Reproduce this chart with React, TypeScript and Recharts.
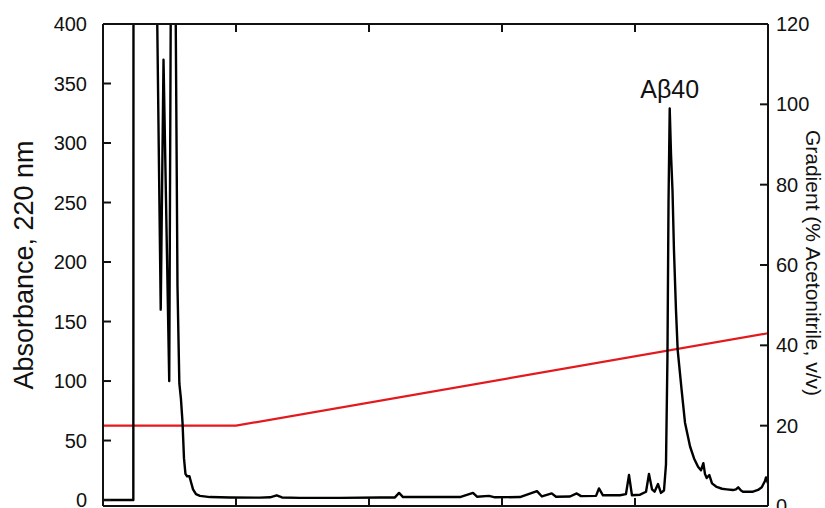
import { ComposedChart, Line, XAxis, YAxis, ReferenceDot } from 'recharts';

// retention time (min) and absorbance at 220 nm
const times = [
  0, 2.28, 2.3, 4.06, 4.08, 4.34, 4.55, 4.98, 5.09, 5.11, 5.45, 5.47, 5.6, 5.74, 5.86, 5.98, 6.09, 6.2,
  6.32, 6.5, 6.62, 6.77, 6.99, 7.29, 8.05, 9.55, 11.8, 12.56, 13.06, 13.46, 14.81, 17.82, 20.83, 21.95,
  22.26, 22.56, 24.59, 26.84, 27.82, 28.12, 29.02, 29.47, 31.35, 32.63, 33.0, 33.74, 34.06, 35.11, 35.62,
  35.94, 37.07, 37.29, 37.59, 38.87, 39.32, 39.55, 39.77, 40.38, 40.83, 41.05, 41.28, 41.47, 41.73, 41.95,
  42.18, 42.33, 42.44, 42.52, 42.61, 42.71, 42.82, 42.93, 43.08, 43.21, 43.51, 43.76, 44.14, 44.44, 44.74,
  44.96, 45.14, 45.26, 45.39, 45.59, 45.79, 46.14, 46.54, 46.89, 47.37, 47.59, 47.76, 47.97, 48.12, 48.87,
  49.25, 49.53, 49.77, 49.85, 50,
];
const absorbance = [
  0, 0, 700, 700, 400, 160, 370, 100, 400, 700, 700, 400, 180, 98, 85, 65, 35, 22,
  20, 20, 15, 9, 5, 3.5, 2.5, 2.2, 2, 2.3, 4, 2.2, 1.8, 1.8, 2.2, 2.2,
  6, 2.5, 2.5, 2.5, 6, 2.8, 3.5, 2.3, 2.5, 7.5, 3, 5.6, 2.8, 3, 5.6,
  3.3, 3.5, 9.8, 4, 4, 5, 21, 4, 4.5, 7, 22, 9, 7, 13.4, 6,
  8, 30, 120, 250, 329, 290, 260, 210, 160, 126, 92, 65, 45, 35, 28,
  25, 31, 22, 18.5, 21, 14, 11, 9.5, 9, 8.4, 9, 10.7, 8, 7, 7,
  8.5, 10.7, 16, 19, 14,
];

// acetonitrile gradient (%)
const gradientTimes = [0, 10, 50];
const gradientValues = [20, 20, 43];

const xTicks = [0, 10, 20, 30, 40, 50];
const leftTicks = [0, 50, 100, 150, 200, 250, 300, 350, 400];
const rightTicks = [0, 20, 40, 60, 80, 100, 120];

const trace = times.map((t, i) => ({ t, abs: absorbance[i] }));
const gradient = gradientTimes.map((t, i) => ({ t, pct: gradientValues[i] }));

const FONT = '"Liberation Sans", Arial, sans-serif';
const tickStyle = { fill: '#111', fontSize: 20, fontFamily: FONT };
const axisStroke = { stroke: '#111', strokeWidth: 2 };

const LeftTitle = ({ viewBox }: any) => {
  const cx = viewBox.x + 24;
  const cy = viewBox.y + viewBox.height / 2;
  return (
    <text x={cx} y={cy} transform={`rotate(-90 ${cx} ${cy})`} textAnchor="middle" dominantBaseline="central"
      fontSize={27} fontFamily={FONT} fill="#111">
      Absorbance, 220 nm
    </text>
  );
};

const RightTitle = ({ viewBox }: any) => {
  const cx = viewBox.x + 45;
  const cy = viewBox.y + viewBox.height / 2 - 2;
  return (
    <text x={cx} y={cy} transform={`rotate(90 ${cx} ${cy})`} textAnchor="middle" dominantBaseline="central"
      fontSize={21} fontFamily={FONT} fill="#111">
      Gradient (% Acetonitrile, v/v)
    </text>
  );
};

// the time labels sit below the visible area in the reference
const NoLabel = () => <g />;

export default function App() {
  return (
    <div style={{ position: 'absolute', left: 0, top: 0, background: '#fff' }}>
      <ComposedChart width={825} height={508} data={trace} margin={{ top: 23, right: 0, bottom: 0, left: 0 }}>
        <XAxis xAxisId="bottom" dataKey="t" type="number" domain={[0, 50]} ticks={xTicks} height={2}
          tickSize={-8} axisLine={axisStroke} tickLine={axisStroke} tick={NoLabel} />
        <XAxis xAxisId="top" orientation="top" dataKey="t" type="number" domain={[0, 50]} ticks={xTicks} height={1}
          tickSize={-8} axisLine={axisStroke} tickLine={axisStroke} tick={NoLabel} />
        <YAxis yAxisId="left" type="number" domain={[-5, 400]} ticks={leftTicks} width={103} allowDataOverflow
          interval={0} tickSize={-8} tickMargin={24} axisLine={axisStroke} tickLine={axisStroke} tick={tickStyle}
          label={{ content: LeftTitle }} />
        <YAxis yAxisId="right" orientation="right" type="number" domain={[0, 120]} ticks={rightTicks} width={57}
          interval={0} tickSize={-8} tickMargin={16} axisLine={axisStroke} tickLine={axisStroke} tick={tickStyle}
          label={{ content: RightTitle }} />
        <Line xAxisId="bottom" yAxisId="right" data={gradient} dataKey="pct" type="linear" stroke="#e3191c"
          strokeWidth={2.2} dot={false} isAnimationActive={false} />
        <Line xAxisId="bottom" yAxisId="left" dataKey="abs" type="linear" stroke="#000" strokeWidth={2.4}
          dot={false} isAnimationActive={false} strokeLinejoin="round" />
        <ReferenceDot xAxisId="bottom" yAxisId="left" x={42.61} y={329} r={0} stroke="none"
          label={{ value: 'Aβ40', position: 'top', offset: 10, fontSize: 25, fontFamily: FONT, fill: '#111' }} />
      </ComposedChart>
    </div>
  );
}
